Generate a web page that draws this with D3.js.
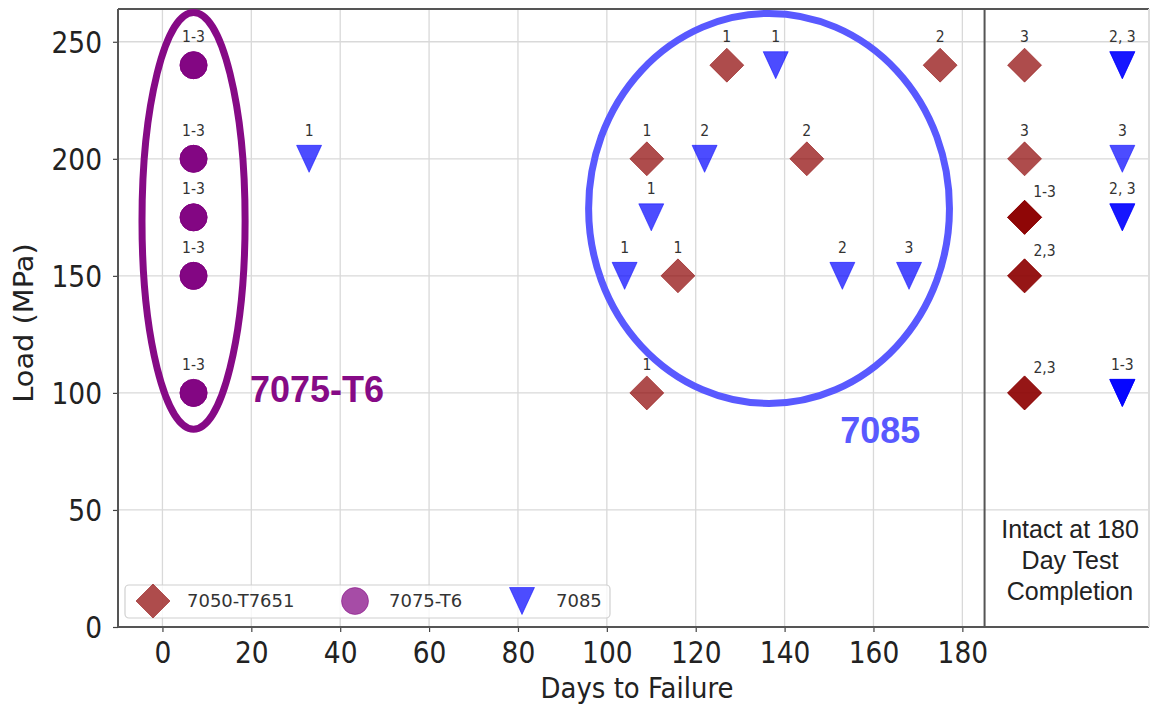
<!DOCTYPE html>
<html lang="en">
<head>
  <meta charset="UTF-8">
  <title>Days to Failure vs Load</title>
  <script src="https://d3js.org/d3.v7.min.js"></script>
  <style>
    body { margin: 0; background: #fff; }
    svg { display: block; }
  </style>
</head>
<body>
  <svg id="chart" width="1150" height="707"></svg>

  <script>
    // Series names and colours
    const alloys = ["7050-T7651", "7075-T6", "7085"];
    const alloyColors = ["#8b0000", "#800080", "#0000ff"];

    // 7050-T7651 (days 194 = "intact at 180 days" column)
    const days7050   = [127, 175, 109, 145, 116, 109, 194, 194, 194, 194, 194];
    const load7050   = [240, 240, 200, 200, 150, 100, 240, 200, 175, 150, 100];
    const label7050  = ["1", "2", "1", "2", "1", "1", "3", "3", "1-3", "2,3", "2,3"];
    const count7050  = [1, 1, 1, 1, 1, 1, 1, 1, 3, 2, 2];

    // 7075-T6
    const days7075   = [7, 7, 7, 7, 7];
    const load7075   = [240, 200, 175, 150, 100];
    const label7075  = ["1-3", "1-3", "1-3", "1-3", "1-3"];
    const count7075  = [3, 3, 3, 3, 3];

    // 7085 (days 216 = "intact at 180 days" column)
    const days7085   = [33, 138, 122, 110, 104, 153, 168, 216, 216, 216, 216];
    const load7085   = [200, 240, 200, 175, 150, 150, 150, 240, 200, 175, 100];
    const label7085  = ["1", "1", "2", "1", "1", "2", "3", "2, 3", "3", "2, 3", "1-3"];
    const count7085  = [1, 1, 1, 1, 1, 1, 1, 2, 1, 2, 3];

    const xTicks = [0, 20, 40, 60, 80, 100, 120, 140, 160, 180];
    const yTicks = [0, 50, 100, 150, 200, 250];
    const testEnd = 185;   // divider before the intact column

    const svg = d3.select("#chart");
    const plotL = 118, plotR = 1149, plotT = 9, plotB = 627;
    const x = d3.scaleLinear().domain([-10, 222]).range([plotL, plotR]);
    const y = d3.scaleLinear().domain([0, 264]).range([plotB, plotT]);

    const mplFont = "'DejaVu Sans', sans-serif";
    const annFont = "'Liberation Sans', Arial, sans-serif";
    const stretch = 1.11;   // original figure was stretched vertically

    // grid
    svg.append("g").selectAll("line").data(xTicks).join("line")
      .attr("x1", d => x(d)).attr("x2", d => x(d))
      .attr("y1", plotT).attr("y2", plotB)
      .attr("stroke", "#d9d9d9").attr("stroke-width", 1.3);
    svg.append("g").selectAll("line").data(yTicks.slice(1)).join("line")
      .attr("x1", plotL).attr("x2", plotR)
      .attr("y1", d => y(d)).attr("y2", d => y(d))
      .attr("stroke", "#d9d9d9").attr("stroke-width", 1.3);

    // axes
    const xAxis = svg.append("g").attr("transform", `translate(0,${plotB})`)
      .call(d3.axisBottom(x).tickValues(xTicks).tickSize(5).tickSizeOuter(0));
    const yAxis = svg.append("g").attr("transform", `translate(${plotL},0)`)
      .call(d3.axisLeft(y).tickValues(yTicks).tickSize(5).tickSizeOuter(0));
    [xAxis, yAxis].forEach(g => {
      g.select(".domain").remove();
      g.selectAll(".tick line").attr("stroke", "#444").attr("stroke-width", 1.2);
      g.selectAll(".tick text")
        .attr("font-family", mplFont).attr("font-size", 26.5).attr("fill", "#222")
        .attr("x", 0).attr("y", 0).attr("dy", null);
    });
    xAxis.selectAll(".tick text").attr("transform", `translate(0,36) scale(1,${stretch})`);
    yAxis.selectAll(".tick text").attr("transform", `translate(-16,10.5) scale(1,${stretch})`);

    // frame + divider
    const spine = (x1, y1, x2, y2) => svg.append("line")
      .attr("x1", x1).attr("y1", y1).attr("x2", x2).attr("y2", y2)
      .attr("stroke", "#555").attr("stroke-width", 2);
    spine(plotL, plotT, plotR, plotT);
    spine(plotL, plotB, plotR, plotB);
    spine(plotL, plotT, plotL, plotB);
    spine(plotR, plotT, plotR, plotB).attr("stroke", "#ddd");
    spine(x(testEnd), plotT, x(testEnd), plotB);

    // axis titles
    svg.append("g").attr("transform", `translate(637,698) scale(1,${stretch})`)
      .append("text").attr("text-anchor", "middle")
      .attr("font-family", mplFont).attr("font-size", 26).attr("fill", "#222")
      .text("Days to Failure");
    svg.append("g").attr("transform", `translate(33,323) scale(1,${stretch}) rotate(-90)`)
      .append("text").attr("text-anchor", "middle")
      .attr("font-family", mplFont).attr("font-size", 26).attr("fill", "#222")
      .text("Load (MPa)");

    // markers
    const shapes = [
      "M0,-17L17,0L0,17L-17,0Z",
      d3.symbol(d3.symbolCircle, Math.PI * 13.5 * 13.5)(),
      "M-12.5,-13.5L12.5,-13.5L0,13.5Z"
    ];
    const series = [
      [days7050, load7050, label7050, count7050],
      [days7075, load7075, label7075, count7075],
      [days7085, load7085, label7085, count7085]
    ];
    const points = [];
    series.forEach(([ds, ls, lb, ct], s) => {
      ds.forEach((d, i) => points.push({ s, day: d, load: ls[i], label: lb[i], count: ct[i] }));
    });
    const copies = points.flatMap(p => d3.range(p.count).map(() => p));

    const drawMarker = (sel, s) => sel.attr("d", shapes[s])
      .attr("fill", alloyColors[s]).attr("fill-opacity", 0.7)
      .attr("stroke", alloyColors[s]).attr("stroke-opacity", 0.5).attr("stroke-width", 1);

    svg.append("g").selectAll("path").data(copies).join("path")
      .attr("transform", d => `translate(${x(d.day)},${y(d.load)})`)
      .each(function (d) { drawMarker(d3.select(this), d.s); });

    // replicate labels; a few in the intact column sit to the upper right
    const shifted = d => d.s === 0 && d.day > testEnd && d.load < 200;
    svg.append("g").selectAll("g").data(points).join("g")
      .attr("transform", d => `translate(${x(d.day) + (shifted(d) ? 20 : 0)},${y(d.load) - (shifted(d) ? 20 : 23)}) scale(1,${stretch})`)
      .append("text").attr("text-anchor", "middle")
      .attr("font-family", mplFont).attr("font-size", 14).attr("fill", "#333")
      .text(d => d.label);

    // legend
    const legend = svg.append("g");
    legend.append("rect").attr("x", 125).attr("y", 585).attr("width", 485).attr("height", 33)
      .attr("rx", 4).attr("fill", "#fff").attr("fill-opacity", 0.8)
      .attr("stroke", "#d0d0d0").attr("stroke-width", 1.2);
    const legendX = [153, 355, 522];
    alloys.forEach((name, s) => {
      legend.append("path").attr("transform", `translate(${legendX[s]},601)`)
        .call(sel => drawMarker(sel, s));
      legend.append("text").attr("x", legendX[s] + 34).attr("y", 607)
        .attr("font-family", mplFont).attr("font-size", 18).attr("fill", "#333")
        .text(name);
    });

    // annotations
    svg.append("ellipse")
      .attr("cx", x(7)).attr("cy", y(173.5))
      .attr("rx", x(7) - x(-4.6)).attr("ry", y(84.5) - y(173.5))
      .attr("fill", "none").attr("stroke", "#860a86").attr("stroke-width", 7);
    svg.append("text").attr("x", x(19.7)).attr("y", y(96))
      .attr("font-family", annFont).attr("font-weight", "bold").attr("font-size", 36)
      .attr("fill", "#860a86").text("7075-T6");

    svg.append("ellipse")
      .attr("cx", x(136.5)).attr("cy", y(178.8))
      .attr("rx", x(136.5) - x(95.9)).attr("ry", y(95.5) - y(178.8))
      .attr("fill", "none").attr("stroke", "#5959ff").attr("stroke-width", 7);
    svg.append("text").attr("x", x(152.5)).attr("y", y(78.6))
      .attr("font-family", annFont).attr("font-weight", "bold").attr("font-size", 36)
      .attr("fill", "#5959ff").text("7085");

    const intact = svg.append("text").attr("text-anchor", "middle")
      .attr("font-family", annFont).attr("font-size", 25).attr("fill", "#222");
    ["Intact at 180", "Day Test", "Completion"].forEach((line, i) => {
      intact.append("tspan").attr("x", 1070).attr("y", 538 + i * 31).text(line);
    });
  </script>
</body>
</html>
